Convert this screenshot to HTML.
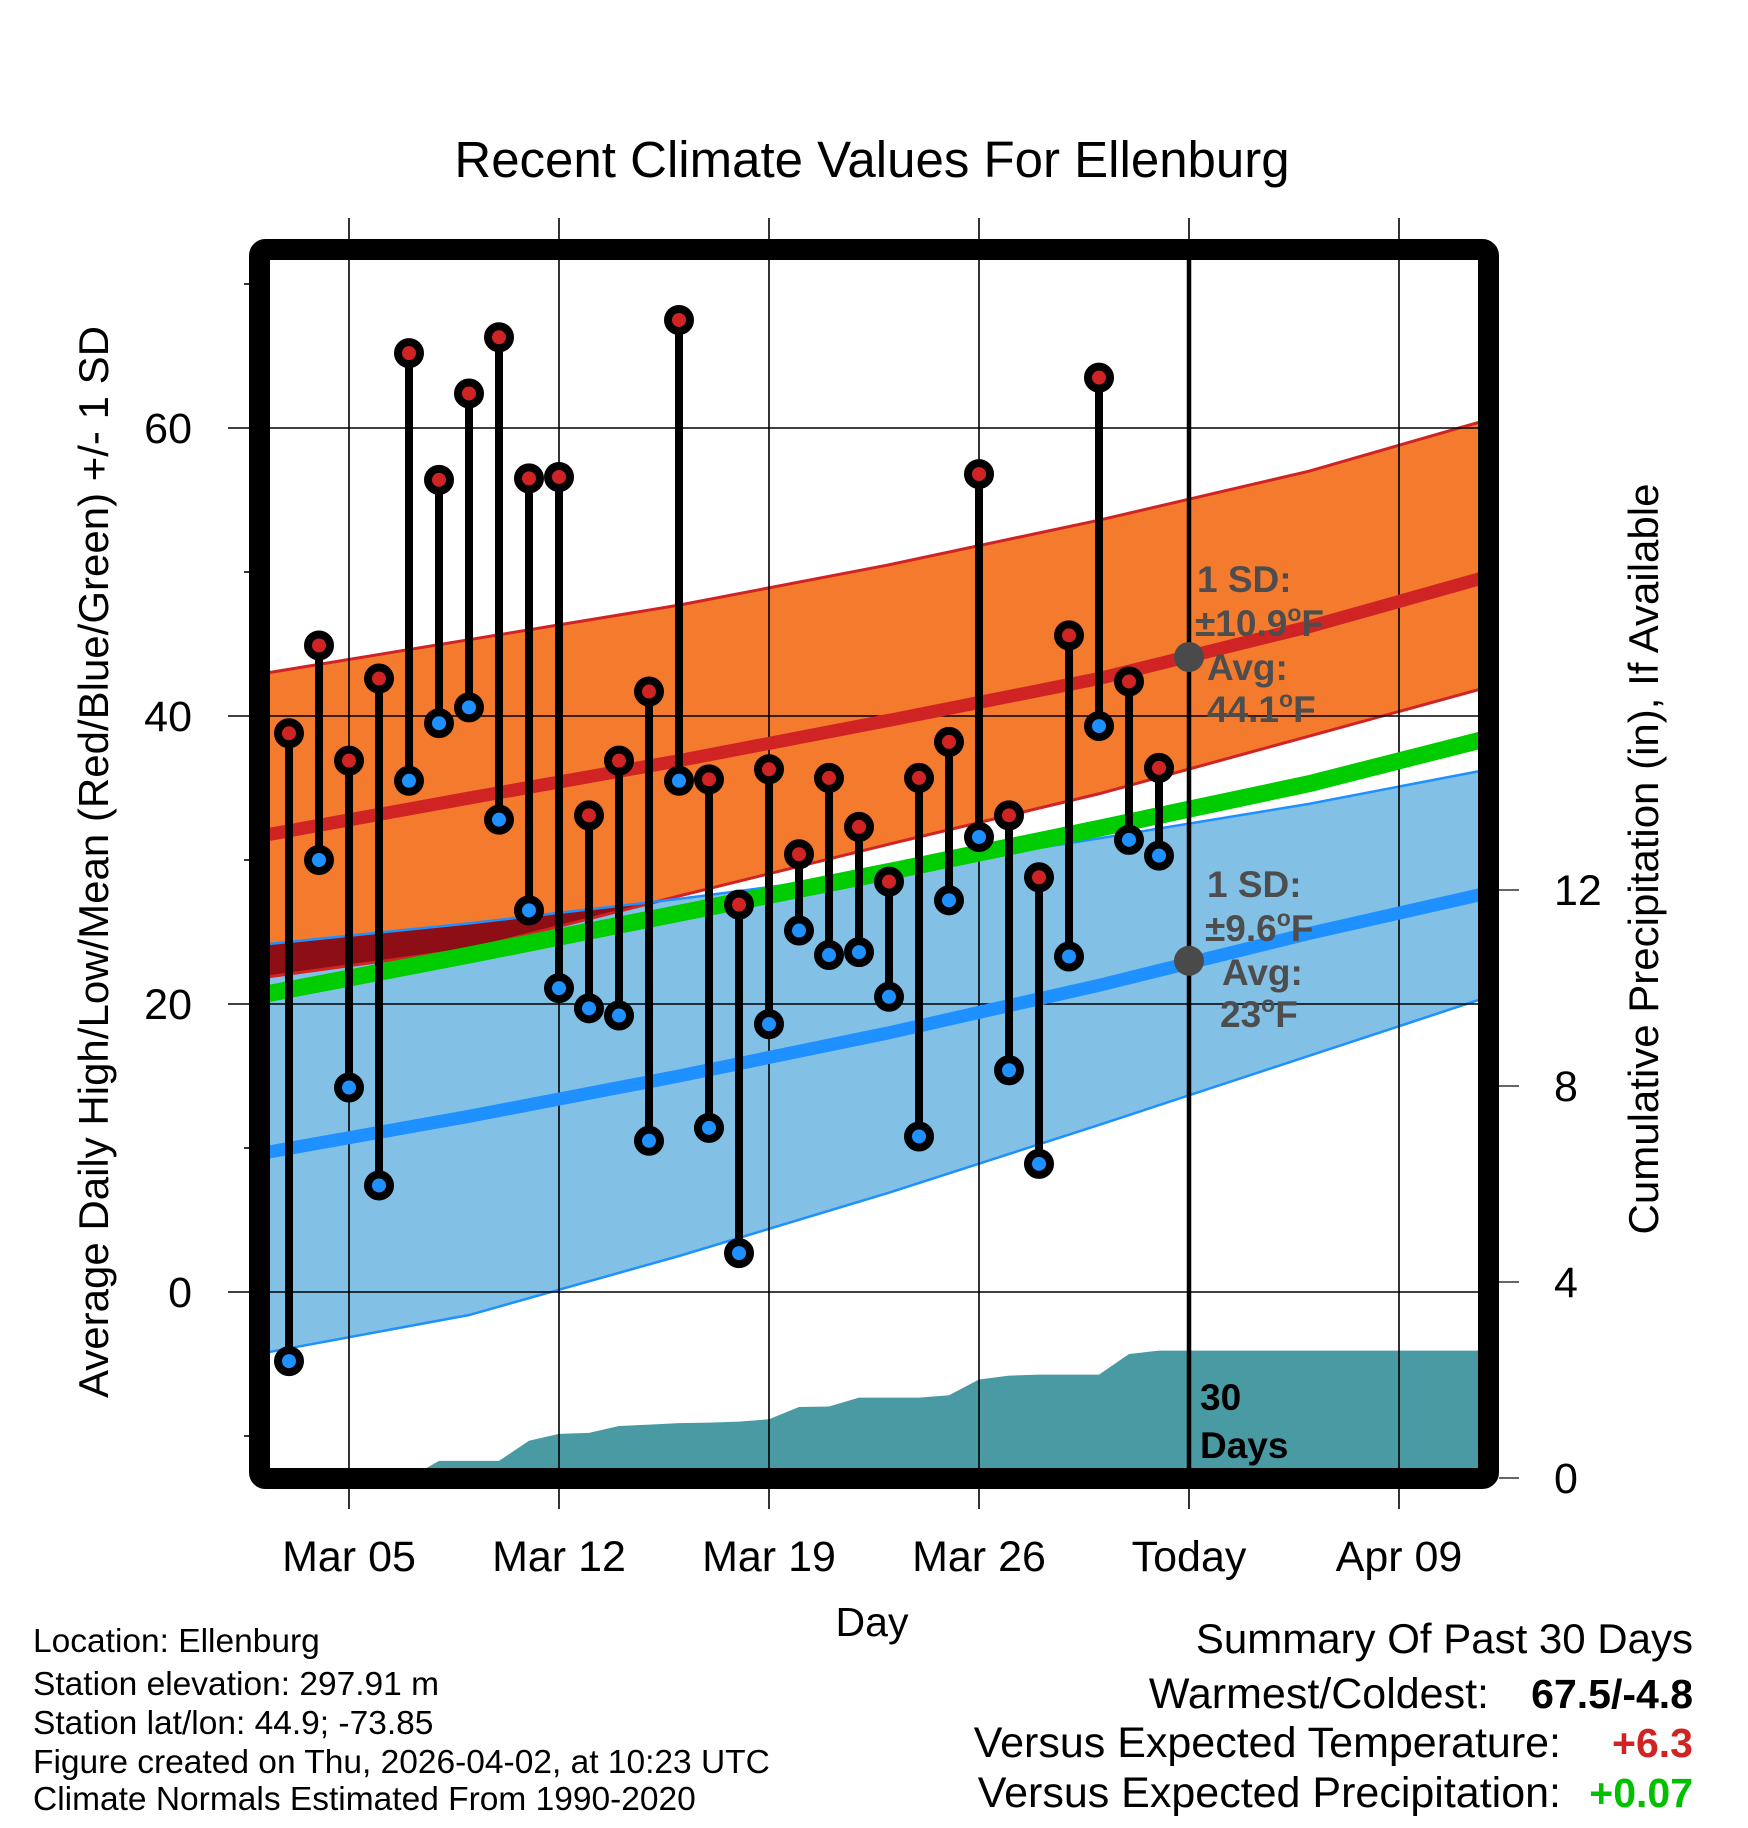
<!DOCTYPE html>
<html><head><meta charset="utf-8"><style>
html,body{margin:0;padding:0;background:#fff;}
svg{display:block;font-family:"Liberation Sans",Arial,sans-serif;}
</style></head><body>
<svg id="chart" width="1748" height="1828" viewBox="0 0 1748 1828" xmlns="http://www.w3.org/2000/svg"></svg>
<script>
// ---- data ----
const dayLabels = ["Mar 05","Mar 12","Mar 19","Mar 26","Today","Apr 09"];
const dayTicks = [0,7,14,21,28,35]; // days offset from Mar 05
const obsDays = [-2,-1,0,1,2,3,4,5,6,7,8,9,10,11,12,13,14,15,16,17,18,19,20,21,22,23,24,25,26,27];
const highs = [38.8,44.9,36.9,42.6,65.2,56.4,62.4,66.3,56.5,56.6,33.1,36.9,41.7,67.5,35.6,26.9,36.3,30.4,35.7,32.3,28.5,35.7,38.2,56.8,33.1,28.8,45.6,63.5,42.4,36.4];
const lows = [-4.8,30.0,14.2,7.4,35.5,39.5,40.6,32.8,26.5,21.1,19.7,19.2,10.5,35.5,11.4,2.7,18.6,25.1,23.4,23.6,20.5,10.8,27.2,31.6,15.4,8.9,23.3,39.3,31.4,30.3];
const precip = [0,0,0,0,0,0.35,0.35,0.35,0.76,0.90,0.92,1.06,1.09,1.12,1.13,1.15,1.20,1.45,1.46,1.64,1.64,1.64,1.69,2.01,2.09,2.11,2.11,2.11,2.53,2.60];
const normDays = [-3,4,11,18,25,32,39];
const hiMean = [31.65,34.3,36.9,39.7,42.6,46.2,50.3];
const hiTop = [42.9,45.3,47.7,50.5,53.6,57.0,61.2];
const hiBottom = [21.8,23.8,27.5,31.1,34.6,38.6,42.6];
const avgMean = [20.6,23.4,26.3,29.2,32.2,35.3,39.0];
const loTop = [24.1,25.6,27.3,29.2,31.5,33.9,36.7];
const loMean = [9.6,12.2,15.0,18.0,21.3,24.9,28.2];
const loBottom = [-4.3,-1.6,2.5,6.9,11.6,16.4,21.2];
const tempTicks = [0,20,40,60];
const tempMinor = [-10,10,30,50,70];
const precipTicks = [0,4,8,12];
const todayDay = 28;
const todayHiAvg = 44.1, todayLoAvg = 23.0;

// ---- axes ----
const X0=270,X1=1478,Y0=260,Y1=1468;
const xs = d => 349 + 30*d;
const yt = t => 1292 - 14.4*t;
const yp = p => 1478 - 49*p;

const svg = document.getElementById('chart');
const NS="http://www.w3.org/2000/svg";
function mk(tag, attrs, parent){const e=document.createElementNS(NS,tag);for(const k in attrs)e.setAttribute(k,attrs[k]);(parent||svg).appendChild(e);return e;}
function txt(s, attrs, parent){const e=mk('text',attrs,parent);e.textContent=s;return e;}

const defs=mk('defs',{});
const cp=mk('clipPath',{id:'plotclip'},defs);
mk('rect',{x:X0,y:Y0,width:X1-X0,height:Y1-Y0},cp);

function linePts(arr){return normDays.map((d,i)=>xs(d)+','+yt(arr[i])).join(' ');}
function bandPts(top,bot){
  const a=normDays.map((d,i)=>xs(d)+','+yt(top[i]));
  const b=normDays.map((d,i)=>xs(d)+','+yt(bot[i])).reverse();
  return a.concat(b).join(' ');
}

const plot=mk('g',{'clip-path':'url(#plotclip)'});



let e=mk('polygon',{points:bandPts(loTop,loBottom),fill:'#82c0e6'},plot);


e=mk('polygon',{points:bandPts(hiTop,hiBottom),fill:'#f47a2e'},plot);


const cp2=mk('clipPath',{id:'loclip'},defs);
mk('polygon',{points:bandPts(loTop,loBottom)},cp2);
e=mk('polygon',{points:bandPts(hiTop,hiBottom),fill:'#8e0e16','clip-path':'url(#loclip)'},plot);


e=mk('polyline',{points:linePts(hiTop),fill:'none',stroke:'#d02424','stroke-width':3},plot);


e=mk('polyline',{points:linePts(hiBottom),fill:'none',stroke:'#d02424','stroke-width':3},plot);


e=mk('polyline',{points:linePts(loTop),fill:'none',stroke:'#1e90ff','stroke-width':2.5},plot);


e=mk('polyline',{points:linePts(loBottom),fill:'none',stroke:'#1e90ff','stroke-width':2.5},plot);



let pp=[xs(obsDays[0])+','+yp(0)];
obsDays.forEach((d,i)=>pp.push(xs(d)+','+yp(precip[i])));
pp.push(X1+10+','+yp(precip[precip.length-1]));
pp.push(X1+10+','+yp(0));
e=mk('polygon',{points:pp.join(' '),fill:'#4a9aa4'},plot);



tempTicks.forEach(t=>{
  const g=mk('line',{x1:228,x2:X1,y1:yt(t),y2:yt(t),stroke:'#000','stroke-width':1.6});
  
  
});
tempMinor.forEach(t=>{
  const g=mk('line',{x1:244,x2:252,y1:yt(t),y2:yt(t),stroke:'#000','stroke-width':1.6});
  
  
});
dayTicks.forEach(d=>{
  const g=mk('line',{x1:xs(d),x2:xs(d),y1:218,y2:1509,stroke:'#000','stroke-width':1.6});
  
  
});

const plot2=mk('g',{'clip-path':'url(#plotclip)'});
e=mk('polyline',{points:linePts(hiMean),fill:'none',stroke:'#d02424','stroke-width':13},plot2);


e=mk('polyline',{points:linePts(avgMean),fill:'none',stroke:'#00cc00','stroke-width':17},plot2);


e=mk('polyline',{points:linePts(loMean),fill:'none',stroke:'#1e90ff','stroke-width':13},plot2);



e=mk('line',{x1:xs(todayDay),x2:xs(todayDay),y1:Y0,y2:Y1,stroke:'#000','stroke-width':4.5});



obsDays.forEach((d,i)=>{
  const s=mk('line',{x1:xs(d),x2:xs(d),y1:yt(highs[i]),y2:yt(lows[i]),stroke:'#000','stroke-width':8});
  
  
});
obsDays.forEach((d,i)=>{
  const h=mk('circle',{cx:xs(d),cy:yt(highs[i]),r:11,fill:'#d02424',stroke:'#000','stroke-width':8});
  
  
  const l=mk('circle',{cx:xs(d),cy:yt(lows[i]),r:11,fill:'#1e90ff',stroke:'#000','stroke-width':8});
  
  
});

e=mk('circle',{cx:xs(todayDay),cy:yt(todayHiAvg),r:15,fill:'#4a4a4a'});


e=mk('circle',{cx:xs(todayDay),cy:yt(todayLoAvg),r:15,fill:'#4a4a4a'});



function ann(lines,name){
  const g=mk('g',{});
  
  
  lines.forEach(l=>{
    const t=mk('text',{x:l[0],y:l[1],'font-size':37,'font-weight':'bold',fill:'#4d4d4d'},g);
    t.innerHTML=l[2];
  });
}
ann([[1197,592,'1 SD:'],[1195,636,'±10.9<tspan dy="-15" font-size="23">o</tspan><tspan dy="15">F</tspan>'],[1207,680,'Avg:'],[1207,722,'44.1<tspan dy="-15" font-size="23">o</tspan><tspan dy="15">F</tspan>']],'high-normal-annotation');
ann([[1207,897,'1 SD:'],[1205,941,'±9.6<tspan dy="-15" font-size="23">o</tspan><tspan dy="15">F</tspan>'],[1222,985,'Avg:'],[1220,1027,'23<tspan dy="-15" font-size="23">o</tspan><tspan dy="15">F</tspan>']],'low-normal-annotation');
e=txt('30',{x:1200,y:1410,'font-size':37,'font-weight':'bold',fill:'#000'});


e=txt('Days',{x:1200,y:1458,'font-size':37,'font-weight':'bold',fill:'#000'});



e=mk('rect',{x:259.5,y:249.5,width:1229,height:1229,rx:6,fill:'none',stroke:'#000','stroke-width':21});



tempTicks.forEach(t=>{
  const l=txt(String(t),{x:192,y:yt(t)+15,'font-size':43,'text-anchor':'end'});
  
  
});
precipTicks.forEach(p=>{
  const k=mk('line',{x1:1499,x2:1519,y1:yp(p),y2:yp(p),stroke:'#333','stroke-width':1.6});
  
  
  const l=txt(String(p),{x:1554,y:yp(p)+15,'font-size':43});
  
  
});
dayTicks.forEach((d,i)=>{
  const l=txt(dayLabels[i],{x:xs(d),y:1571,'font-size':43,'text-anchor':'middle'});
  
  
});

e=txt('Recent Climate Values For Ellenburg',{x:872,y:177,'font-size':51,'text-anchor':'middle'});


e=txt('Day',{x:872,y:1636,'font-size':41,'text-anchor':'middle'});


e=txt('Average Daily High/Low/Mean (Red/Blue/Green) +/- 1 SD',{x:0,y:0,'font-size':42,'text-anchor':'middle',transform:'translate(108,862) rotate(-90)'});


e=txt('Cumulative Precipitation (in), If Available',{x:0,y:0,'font-size':42,'text-anchor':'middle',transform:'translate(1658,859) rotate(-90)'});



const foot=[["Location: Ellenburg",1652],["Station elevation: 297.91 m",1695],["Station lat/lon: 44.9; -73.85",1734],["Figure created on Thu, 2026-04-02, at 10:23 UTC",1773],["Climate Normals Estimated From 1990-2020",1810]];
foot.forEach(f=>{
  const l=txt(f[0],{x:33,y:f[1],'font-size':33.5});
  
  
});
e=txt('Summary Of Past 30 Days',{x:1693,y:1653,'font-size':42,'text-anchor':'end'});


e=txt('Warmest/Coldest:',{x:1489,y:1708,'font-size':43,'text-anchor':'end'});


e=txt('67.5/-4.8',{x:1693,y:1708,'font-size':41,'font-weight':'bold','text-anchor':'end'});


e=txt('Versus Expected Temperature:',{x:1561,y:1757,'font-size':43,'text-anchor':'end'});


e=txt('+6.3',{x:1693,y:1757,'font-size':41,'font-weight':'bold','text-anchor':'end',fill:'#d02424'});


e=txt('Versus Expected Precipitation:',{x:1561,y:1807,'font-size':43,'text-anchor':'end'});


e=txt('+0.07',{x:1693,y:1807,'font-size':41,'font-weight':'bold','text-anchor':'end',fill:'#00c000'});


</script>
</body></html>
